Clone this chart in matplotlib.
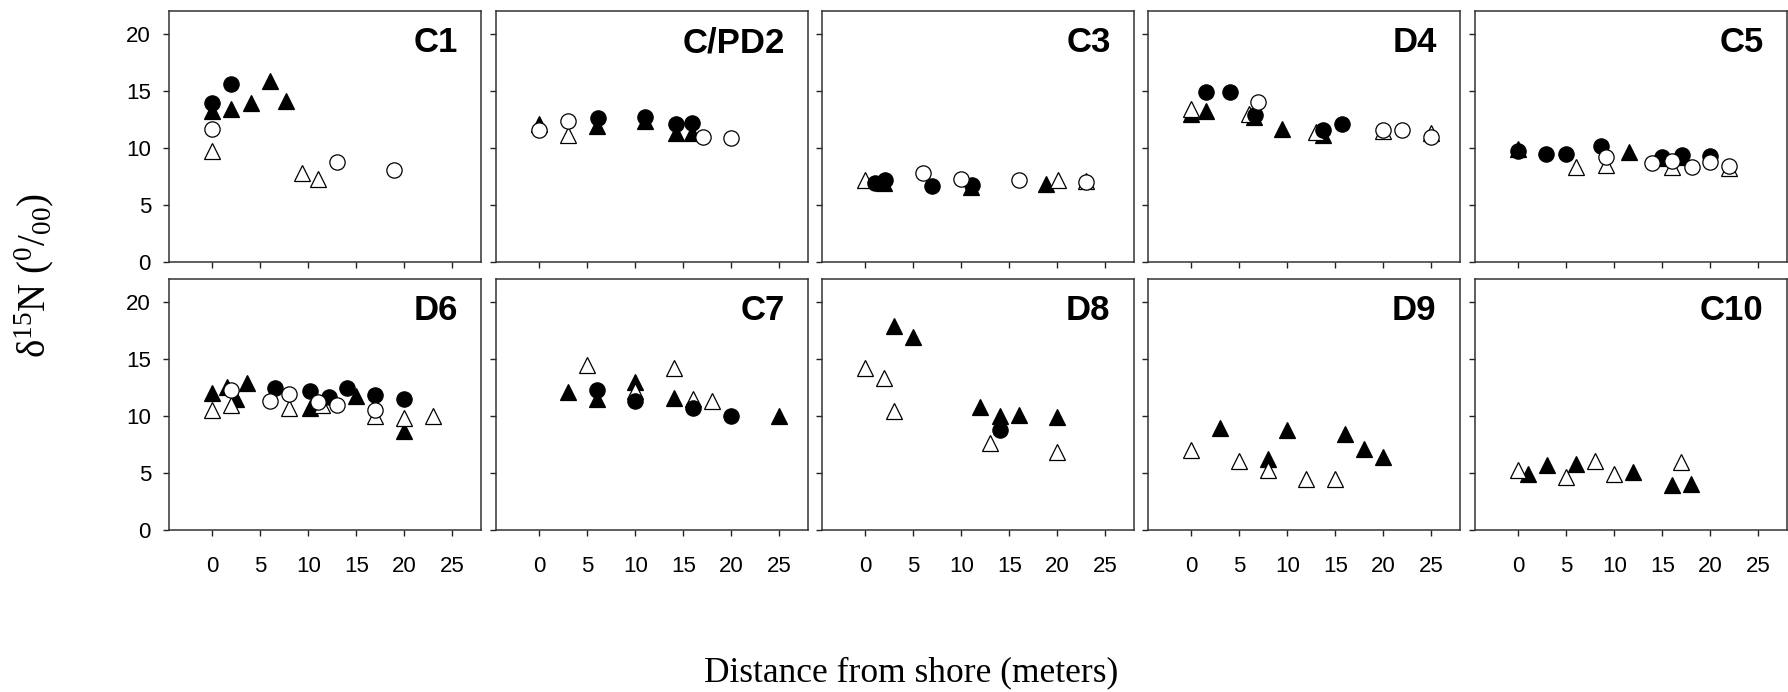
import matplotlib
matplotlib.use("Agg")
import matplotlib.pyplot as plt

plt.rcParams['mathtext.fontset'] = 'custom'
plt.rcParams['mathtext.rm'] = 'Liberation Serif'
plt.rcParams['mathtext.it'] = 'Liberation Serif:italic'
plt.rcParams['mathtext.bf'] = 'Liberation Serif:bold'

# ---- data: (x distances, d15N values) per panel and symbol type ----
panel_names = ["C1", "C/PD2", "C3", "D4", "C5", "D6", "C7", "D8", "D9", "C10"]

C1_filled_tri = ([0, 2, 4, 6, 7.7], [13.2, 13.4, 13.9, 15.9, 14.1])
C1_open_tri = ([0, 9.4, 11], [9.7, 7.8, 7.3])
C1_filled_circ = ([0, 2], [13.9, 15.6])
C1_open_circ = ([0, 13, 18.9], [11.65, 8.8, 8.1])

CPD2_filled_tri = ([0, 6, 11, 14.2, 15.9], [12.1, 11.9, 12.4, 11.3, 11.3])
CPD2_open_tri = ([3], [11.1])
CPD2_filled_circ = ([6.1, 11, 14.2, 15.9], [12.6, 12.7, 12.1, 12.2])
CPD2_open_circ = ([0, 3, 17.1, 20], [11.6, 12.4, 11.0, 10.9])

C3_filled_tri = ([2, 11, 18.8], [6.9, 6.55, 6.8])
C3_open_tri = ([0, 20.1, 23], [7.2, 7.2, 7.1])
C3_filled_circ = ([1, 2.1, 7, 11.1], [6.95, 7.2, 6.7, 6.75])
C3_open_circ = ([6, 10, 16, 23], [7.8, 7.3, 7.2, 7.0])

D4_filled_tri = ([0, 1.5, 6.5, 9.5, 13.7], [13.0, 13.2, 12.7, 11.7, 11.1])
D4_open_tri = ([0, 6, 13, 20, 25], [13.45, 13.0, 11.4, 11.5, 11.3])
D4_filled_circ = ([1.5, 4, 6.6, 13.7, 15.7], [14.9, 14.9, 12.9, 11.6, 12.1])
D4_open_circ = ([7, 20, 22, 25], [14.0, 11.6, 11.6, 11.0])

C5_filled_tri = ([0, 11.5, 15, 17.1], [9.9, 9.6, 9.1, 9.2])
C5_open_tri = ([6, 9.1, 16, 22], [8.3, 8.5, 8.35, 8.2])
C5_filled_circ = ([0, 2.9, 5, 8.6, 15, 17.1, 20], [9.75, 9.5, 9.5, 10.15, 9.2, 9.4, 9.3])
C5_open_circ = ([9.1, 13.9, 16, 18.1, 20, 22], [9.2, 8.65, 8.85, 8.35, 8.8, 8.45])

D6_filled_tri = ([0, 1.5, 2.5, 3.6, 10.2, 15, 20], [12.0, 12.5, 11.45, 12.9, 10.7, 11.75, 8.7])
D6_open_tri = ([0, 2, 8, 11.4, 17, 20, 23], [10.55, 11.0, 10.65, 11.0, 10.0, 9.85, 10.0])
D6_filled_circ = ([6.5, 10.2, 12.2, 14, 17, 20], [12.45, 12.2, 11.65, 12.45, 11.8, 11.45])
D6_open_circ = ([2, 6, 8, 11, 13, 17], [12.25, 11.3, 11.95, 11.2, 10.95, 10.55])

C7_filled_tri = ([3, 6, 10, 14, 25], [12.1, 11.45, 13.0, 11.55, 10.0])
C7_open_tri = ([5, 10, 14, 16, 18], [14.45, 12.2, 14.2, 11.5, 11.35])
C7_filled_circ = ([6, 10, 16, 20], [12.25, 11.3, 10.65, 10.0])
C7_open_circ = ([], [])

D8_filled_tri = ([3, 5, 12, 14, 16, 20], [17.85, 16.9, 10.8, 10.0, 10.05, 9.9])
D8_open_tri = ([0, 2, 3, 13, 20], [14.2, 13.35, 10.4, 7.65, 6.85])
D8_filled_circ = ([14], [8.8])
D8_open_circ = ([], [])

D9_filled_tri = ([3, 8, 10, 16, 18, 20], [8.95, 6.2, 8.75, 8.45, 7.1, 6.4])
D9_open_tri = ([0, 5, 8, 12, 15], [7.0, 6.05, 5.3, 4.45, 4.5])
D9_filled_circ = ([], [])
D9_open_circ = ([], [])

C10_filled_tri = ([1, 3, 6, 12, 16, 18], [4.95, 5.7, 5.8, 5.1, 3.95, 4.05])
C10_open_tri = ([0, 5, 8, 10, 17], [5.3, 4.65, 6.05, 4.95, 6.0])
C10_filled_circ = ([], [])
C10_open_circ = ([], [])

panels = [
    (C1_filled_tri, C1_open_tri, C1_filled_circ, C1_open_circ),
    (CPD2_filled_tri, CPD2_open_tri, CPD2_filled_circ, CPD2_open_circ),
    (C3_filled_tri, C3_open_tri, C3_filled_circ, C3_open_circ),
    (D4_filled_tri, D4_open_tri, D4_filled_circ, D4_open_circ),
    (C5_filled_tri, C5_open_tri, C5_filled_circ, C5_open_circ),
    (D6_filled_tri, D6_open_tri, D6_filled_circ, D6_open_circ),
    (C7_filled_tri, C7_open_tri, C7_filled_circ, C7_open_circ),
    (D8_filled_tri, D8_open_tri, D8_filled_circ, D8_open_circ),
    (D9_filled_tri, D9_open_tri, D9_filled_circ, D9_open_circ),
    (C10_filled_tri, C10_open_tri, C10_filled_circ, C10_open_circ),
]

x_ticks = [0, 5, 10, 15, 20, 25]
y_ticks = [0, 5, 10, 15, 20]

W, H = 1788, 692
fig = plt.figure(figsize=(W / 100, H / 100), dpi=100)

lefts = [169, 496, 822, 1148, 1475]
tops = [11, 279]
pw, ph = 312, 251

styles = [
    dict(marker='^', ms=11.5, mfc='black', mec='black'),
    dict(marker='^', ms=11.5, mfc='white', mec='black'),
    dict(marker='o', ms=11.0, mfc='black', mec='black'),
    dict(marker='o', ms=11.0, mfc='white', mec='black'),
]

sans = 'Liberation Sans'
serif = 'Liberation Serif'

for i, (name, series) in enumerate(zip(panel_names, panels)):
    r, c = divmod(i, 5)
    ax = fig.add_axes([lefts[c] / W, 1 - (tops[r] + ph) / H, pw / W, ph / H])
    for (xs, ys), st in zip(series, styles):
        if len(xs):
            ax.plot(xs, ys, linestyle='none', mew=0.9, **st, clip_on=False)
    ax.set_xlim(-4.5, 28)
    ax.set_ylim(0, 22)
    ax.set_xticks(x_ticks)
    ax.set_yticks(y_ticks)
    ax.tick_params(direction='out', length=4, width=1, color='#222222',
                   labelsize=16)
    ax.tick_params(axis='x', pad=15)
    ax.tick_params(axis='y', pad=9)
    for lab in ax.get_xticklabels() + ax.get_yticklabels():
        lab.set_fontfamily(sans)
    if r == 0:
        ax.set_xticklabels([])
    if c != 0:
        ax.set_yticklabels([])
    for sp in ax.spines.values():
        sp.set_linewidth(1.1)
        sp.set_color('#333333')
    ax.text(0.925, 0.835, name, transform=ax.transAxes, ha='right',
            va='baseline', fontsize=25, fontweight='bold', family=sans)

fig.text(911 / W, 1 - 673 / H, 'Distance from shore (meters)', ha='center',
         va='center', fontsize=25.5, family=serif)
fig.text(34 / W, 1 - 276 / H, 'δ$^{15}$N ($^{0}$/$_{00}$)', ha='center',
         va='center', rotation=90, fontsize=28, family=serif)

fig.savefig('out.png', dpi=100)
